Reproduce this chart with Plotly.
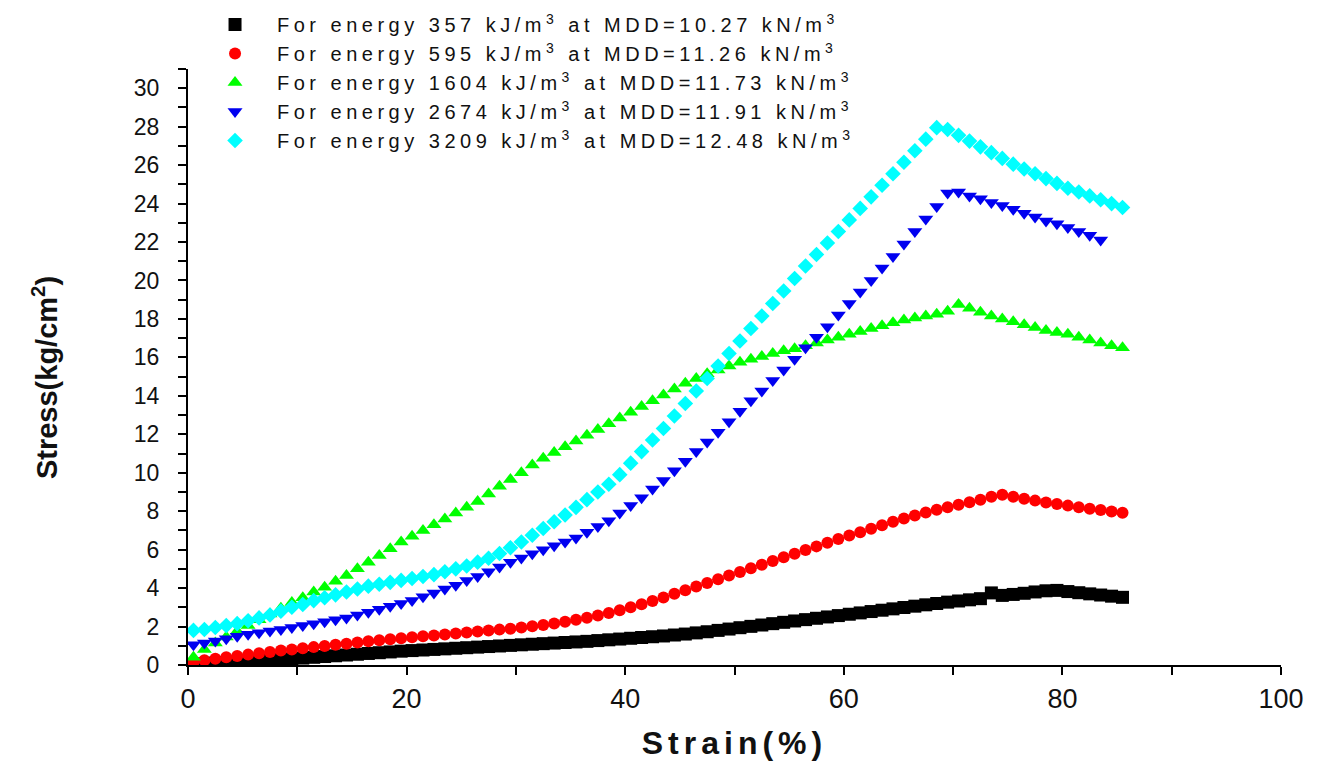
import plotly.graph_objects as go

# ---------------- data ----------------
strain = [0.5, 1.5, 2.5, 3.5, 4.5, 5.5, 6.5, 7.5, 8.5, 9.5,
          10.5, 11.5, 12.5, 13.5, 14.5, 15.5, 16.5, 17.5, 18.5, 19.5,
          20.5, 21.5, 22.5, 23.5, 24.5, 25.5, 26.5, 27.5, 28.5, 29.5,
          30.5, 31.5, 32.5, 33.5, 34.5, 35.5, 36.5, 37.5, 38.5, 39.5,
          40.5, 41.5, 42.5, 43.5, 44.5, 45.5, 46.5, 47.5, 48.5, 49.5,
          50.5, 51.5, 52.5, 53.5, 54.5, 55.5, 56.5, 57.5, 58.5, 59.5,
          60.5, 61.5, 62.5, 63.5, 64.5, 65.5, 66.5, 67.5, 68.5, 69.5,
          70.5, 71.5, 72.5, 73.5, 74.5, 75.5, 76.5, 77.5, 78.5, 79.5,
          80.5, 81.5, 82.5, 83.5, 84.5, 85.5]

stress_357 = [0.02, 0.06, 0.10, 0.13, 0.16, 0.19, 0.22, 0.25, 0.28, 0.32,
              0.36, 0.40, 0.44, 0.48, 0.52, 0.56, 0.60, 0.64, 0.68, 0.72,
              0.75, 0.78, 0.81, 0.84, 0.87, 0.90, 0.93, 0.96, 0.99, 1.02,
              1.05, 1.08, 1.11, 1.14, 1.17, 1.20, 1.23, 1.27, 1.31, 1.35,
              1.39, 1.43, 1.47, 1.51, 1.56, 1.61, 1.67, 1.73, 1.80, 1.87,
              1.94, 2.01, 2.08, 2.15, 2.22, 2.29, 2.36, 2.43, 2.50, 2.57,
              2.64, 2.71, 2.78, 2.85, 2.92, 2.99, 3.06, 3.13, 3.20, 3.27,
              3.33, 3.39, 3.45, 3.75, 3.62, 3.67, 3.73, 3.80, 3.86, 3.88,
              3.82, 3.76, 3.70, 3.64, 3.58, 3.52]

stress_595 = [0.15, 0.25, 0.33, 0.40, 0.47, 0.54, 0.61, 0.68, 0.75, 0.81,
              0.87, 0.93, 0.99, 1.05, 1.11, 1.17, 1.23, 1.29, 1.34, 1.39,
              1.44, 1.49, 1.54, 1.59, 1.64, 1.69, 1.74, 1.79, 1.84, 1.89,
              1.95, 2.01, 2.08, 2.16, 2.25, 2.35, 2.46, 2.58, 2.71, 2.85,
              3.00, 3.16, 3.33, 3.51, 3.70, 3.89, 4.08, 4.27, 4.46, 4.65,
              4.84, 5.03, 5.22, 5.41, 5.60, 5.79, 5.98, 6.17, 6.36, 6.55,
              6.73, 6.91, 7.09, 7.27, 7.45, 7.62, 7.78, 7.93, 8.07, 8.20,
              8.33, 8.46, 8.60, 8.75, 8.85, 8.75, 8.65, 8.55, 8.45, 8.37,
              8.29, 8.21, 8.13, 8.06, 7.99, 7.92]

stress_1604 = [0.40, 0.80, 1.15, 1.45, 1.75, 2.05, 2.35, 2.65, 2.95, 3.25,
               3.50, 3.80, 4.05, 4.35, 4.65, 5.00, 5.35, 5.70, 6.05, 6.40,
               6.70, 7.00, 7.30, 7.60, 7.90, 8.20, 8.50, 8.90, 9.30, 9.65,
               10.00, 10.40, 10.75, 11.05, 11.35, 11.65, 11.95, 12.25, 12.55, 12.85,
               13.15, 13.45, 13.75, 14.05, 14.35, 14.65, 14.90, 15.15, 15.35, 15.55,
               15.75, 15.90, 16.05, 16.20, 16.35, 16.45, 16.60, 16.75, 16.90, 17.05,
               17.20, 17.35, 17.50, 17.65, 17.80, 17.95, 18.05, 18.15, 18.25, 18.40,
               18.75, 18.55, 18.35, 18.15, 18.00, 17.85, 17.70, 17.55, 17.40, 17.30,
               17.20, 17.05, 16.90, 16.75, 16.60, 16.50]

stress_2674 = [1.05, 1.15, 1.25, 1.37, 1.49, 1.60, 1.68, 1.77, 1.85, 1.95,
               2.05, 2.15, 2.25, 2.35, 2.45, 2.60, 2.75, 2.90, 3.05, 3.20,
               3.35, 3.55, 3.75, 3.95, 4.15, 4.40, 4.60, 4.85, 5.10, 5.35,
               5.57, 5.78, 6.00, 6.20, 6.40, 6.60, 6.90, 7.20, 7.50, 7.90,
               8.30, 8.70, 9.15, 9.60, 10.10, 10.60, 11.10, 11.60, 12.10, 12.65,
               13.20, 13.75, 14.25, 14.80, 15.35, 15.90, 16.50, 17.05, 17.60, 18.20,
               18.80, 19.40, 20.00, 20.65, 21.25, 21.90, 22.55, 23.20, 23.85, 24.55,
               24.60, 24.40, 24.25, 24.05, 23.90, 23.70, 23.50, 23.30, 23.10, 22.95,
               22.75, 22.55, 22.35, 22.10]

stress_3209 = [1.80, 1.85, 1.95, 2.05, 2.15, 2.30, 2.45, 2.60, 2.80, 3.00,
               3.15, 3.35, 3.50, 3.65, 3.80, 3.95, 4.10, 4.20, 4.30, 4.40,
               4.50, 4.60, 4.70, 4.85, 5.00, 5.15, 5.35, 5.55, 5.80, 6.10,
               6.40, 6.75, 7.10, 7.45, 7.80, 8.20, 8.60, 9.00, 9.40, 9.90,
               10.50, 11.10, 11.70, 12.30, 12.95, 13.60, 14.25, 14.90, 15.55, 16.20,
               16.85, 17.50, 18.15, 18.80, 19.45, 20.10, 20.75, 21.35, 21.95, 22.55,
               23.15, 23.75, 24.35, 24.95, 25.55, 26.15, 26.75, 27.35, 27.95, 27.85,
               27.55, 27.25, 26.95, 26.65, 26.35, 26.05, 25.80, 25.55, 25.30, 25.05,
               24.80, 24.60, 24.40, 24.20, 24.00, 23.80]

series_names = [
    "For energy 357 kJ/m<sup>3</sup> at MDD=10.27 kN/m<sup>3</sup>",
    "For energy 595 kJ/m<sup>3</sup> at MDD=11.26 kN/m<sup>3</sup>",
    "For energy 1604 kJ/m<sup>3</sup> at MDD=11.73 kN/m<sup>3</sup>",
    "For energy 2674 kJ/m<sup>3</sup> at MDD=11.91 kN/m<sup>3</sup>",
    "For energy 3209 kJ/m<sup>3</sup> at MDD=12.48 kN/m<sup>3</sup>",
]
series_values = [stress_357, stress_595, stress_1604, stress_2674, stress_3209]
series_colors = ["#000000", "#FF0000", "#00FF00", "#0000F0", "#00FFFF"]
series_symbols = ["square", "circle", "triangle-up", "triangle-down", "diamond"]
series_sizes = [13, 12, 13, 13, 12]

y_title = "Stress(kg/cm<sup>2</sup>)"
x_title = "Strain(%)"

SANS = "Liberation Sans, Arial, sans-serif"

fig = go.Figure()
for name, vals, col, sym, sz in zip(series_names, series_values, series_colors,
                                     series_symbols, series_sizes):
    fig.add_trace(go.Scatter(
        x=strain[:len(vals)], y=vals, mode="markers",
        name='<span style="letter-spacing:4.5px">' + name + '</span>',
        marker=dict(color=col, symbol=sym, size=sz, line=dict(width=0)),
    ))

fig.add_annotation(
    text=y_title, textangle=-90,
    xref="paper", yref="paper", x=-0.1308, y=0.4815,
    xanchor="center", yanchor="middle", showarrow=False,
    font=dict(family=SANS, size=29, color="#111111", weight="bold"),
)

fig.update_layout(
    width=1324, height=761,
    margin=dict(l=188, r=43, t=69, b=96, autoexpand=False),
    paper_bgcolor="white", plot_bgcolor="white",
    showlegend=True,
    legend=dict(
        x=0.0046, y=1.1074, xanchor="left", yanchor="top",
        bgcolor="rgba(0,0,0,0)", borderwidth=0,
        font=dict(family=SANS, size=20, color="#111111"),
        itemwidth=74, tracegroupgap=0,
    ),
    xaxis=dict(
        range=[0, 100], tick0=0, dtick=20, automargin=False,
        showgrid=False, zeroline=False,
        showline=True, linecolor="black", linewidth=2,
        ticks="outside", ticklen=8, tickwidth=2, tickcolor="black",
        minor=dict(dtick=10, tick0=0, ticks="outside", ticklen=8, tickwidth=2,
                   tickcolor="black", showgrid=False),
        tickfont=dict(family=SANS, size=27, color="#111111"),
        ticklabelstandoff=1,
        title=dict(text='<span style="letter-spacing:5px">' + x_title + '</span>',
                   font=dict(family=SANS, size=32, color="#111111", weight="bold"),
                   standoff=18),
    ),
    yaxis=dict(
        range=[0, 31], tick0=0, dtick=2, automargin=False,
        showgrid=False, zeroline=False,
        showline=True, linecolor="black", linewidth=2,
        ticks="outside", ticklen=8, tickwidth=2, tickcolor="black",
        minor=dict(dtick=1, tick0=0, ticks="outside", ticklen=8, tickwidth=2,
                   tickcolor="black", showgrid=False),
        tickfont=dict(family=SANS, size=23, color="#111111"),
        ticklabelstandoff=14,
    ),
)

fig.write_html("out.html")
